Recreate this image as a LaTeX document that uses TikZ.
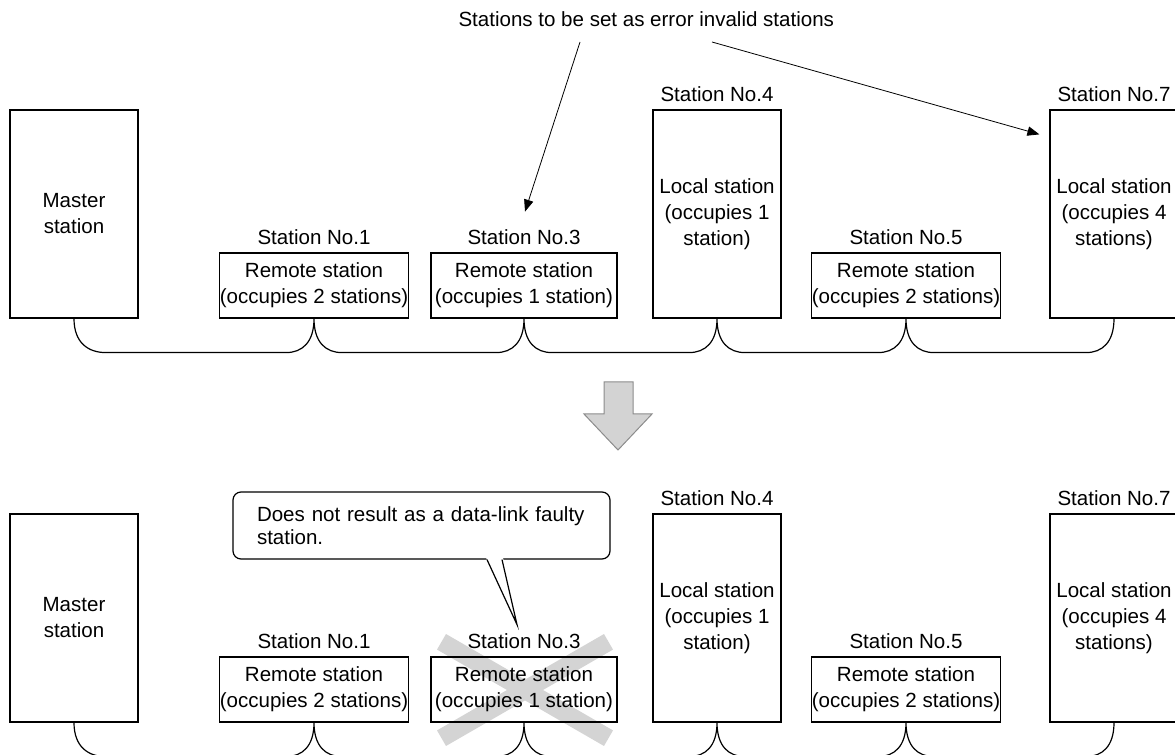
\documentclass[tikz,border=0pt]{standalone}
\usepackage{fontspec}
\setmainfont{Liberation Sans}
\usetikzlibrary{arrows.meta,calc}
\definecolor{arrowgray}{RGB}{211,211,211}
\definecolor{edgegray}{RGB}{140,140,140}
\definecolor{crossgray}{RGB}{212,212,212}
\tikzset{every picture/.style={line width=0.75pt}}
\tikzset{
  tallbox/.style={draw, line width=0.9pt, minimum width=96pt, minimum height=156pt, align=center, inner sep=0pt},
  remotebox/.style={draw, line width=0.9pt, minimum width=139.5pt, minimum height=48.75pt, align=center, inner sep=0pt},
  stnlabel/.style={anchor=south, inner sep=1pt},
  bus/.style={line width=0.9pt},
  ptr/.style={line width=0.6pt, -{Triangle[length=9pt,width=7pt]}},
  callbox/.style={draw, line width=0.9pt, rounded corners=6pt, text width=246.75pt, inner xsep=18pt, minimum height=50.25pt, align=left, font=\fontsize{15.4}{17.25}\selectfont}
}

\begin{document}
\begin{tikzpicture}[x=0.75pt,y=0.75pt,yscale=-1,xscale=1, font=\fontsize{15.4}{19.5}\selectfont]
\useasboundingbox (0,0) rectangle (1175,755);
\clip (0,0) rectangle (1175,755);

% cross over station No.3 (lower half)
\draw[crossgray, line width=13.5pt] (441.5,641.8) -- (608.5,738.2) (608.5,641.8) -- (441.5,738.2);

% both halves
\foreach \s/\dy in {a/0, b/404} {
  \node[tallbox] (m\s) at (74,{214+\dy}) {Master\\station};
  \node[remotebox] (r1\s) at (314,{285.5+\dy}) {Remote station\\(occupies 2 stations)};
  \node[remotebox] (r3\s) at (524,{285.5+\dy}) {Remote station\\(occupies 1 station)};
  \node[tallbox] (t4\s) at (717,{214+\dy}) {Local station\\(occupies 1\\station)};
  \node[remotebox] (r5\s) at (906,{285.5+\dy}) {Remote station\\(occupies 2 stations)};
  \node[tallbox] (t7\s) at (1114,{214+\dy}) {Local station\\(occupies 4\\stations)};

  \node[stnlabel] (l1\s) at ($(r1\s.north)+(0,-6)$) {Station No.1};
  \node[stnlabel] (l3\s) at ($(r3\s.north)+(0,-6)$) {Station No.3};
  \node[stnlabel] (l4\s) at ($(t4\s.north)+(0,-6)$) {Station No.4};
  \node[stnlabel] (l5\s) at ($(r5\s.north)+(0,-6)$) {Station No.5};
  \node[stnlabel] (l7\s) at ($(t7\s.north)+(0,-6)$) {Station No.7};

  % bus line
  \draw[bus] (m\s.south) .. controls +(0,24) and +(-18,0) .. ++(32,34)
    -- ($(r1\s.south)+(-28,34)$) .. controls +(16,0) and +(0,24) .. (r1\s.south)
    .. controls +(0,24) and +(-16,0) .. ++(28,34)
    -- ($(r3\s.south)+(-28,34)$) .. controls +(16,0) and +(0,24) .. (r3\s.south)
    .. controls +(0,24) and +(-16,0) .. ++(28,34)
    -- ($(t4\s.south)+(-28,34)$) .. controls +(16,0) and +(0,24) .. (t4\s.south)
    .. controls +(0,24) and +(-16,0) .. ++(28,34)
    -- ($(r5\s.south)+(-28,34)$) .. controls +(16,0) and +(0,24) .. (r5\s.south)
    .. controls +(0,24) and +(-16,0) .. ++(28,34)
    -- ($(t7\s.south)+(-28,34)$) .. controls +(16,0) and +(0,24) .. (t7\s.south);
}

% note and its arrows
\node[anchor=west, inner sep=0pt] (note) at (458,19) {Stations to be set as error invalid stations};
\coordinate (p1) at (580,42);
\coordinate (p2) at (712,42);
\draw[ptr] (p1) -- ($(l3a.north)+(1,-16)$);
\draw[ptr] (p2) -- ($(t7a.north west)+(-10,25)$);

% down arrow
\draw[draw=edgegray, fill=arrowgray] (604,382) -- (633,382) -- (633,414) -- (652,414) -- (618,450) -- (584,414) -- (604,414) -- cycle;

% callout
\node[callbox] (call) at (421.5,525.5) {Does not result as a data-link faulty\\station.};
\coordinate (tip) at ($(call.south)+(95.5,65)$);
\fill[white] ($(call.south)+(64.5,-2)$) -- (tip) -- ($(call.south)+(81.5,-2)$) -- cycle;
\draw[line width=0.9pt] ($(call.south)+(65.5,0)$) -- (tip) -- ($(call.south)+(80.5,0)$);

\end{tikzpicture}
\end{document}
